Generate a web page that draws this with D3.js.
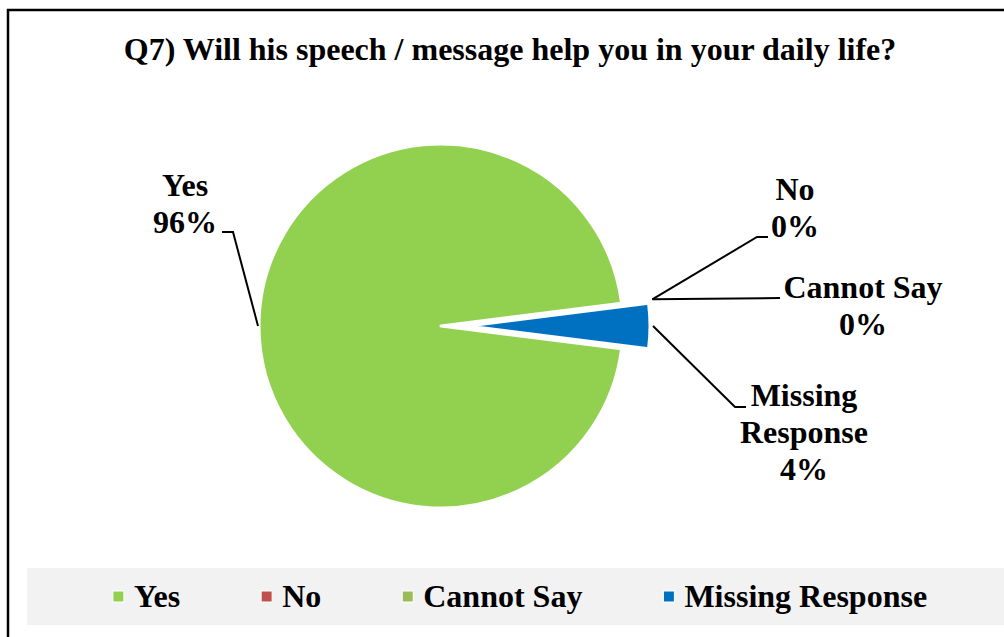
<!DOCTYPE html>
<html><head><meta charset="utf-8">
<script src="https://cdn.jsdelivr.net/npm/d3@7"></script>
<style>
body{margin:0;background:#fff}
svg{display:block}
text{font-family:"Liberation Serif","Times New Roman",serif;font-weight:bold;fill:#000}
</style>
</head><body><svg id="c" width="1004" height="637"></svg>
<script>
// ---- data ----
const categories = ["Yes", "No", "Cannot Say", "Missing Response"];
const values = [96, 0, 0, 4];
const percentLabels = ["96%", "0%", "0%", "4%"];
const labelLines = [["Yes"], ["No"], ["Cannot Say"], ["Missing", "Response"]];
const colors = ["#92D050", "#C0504D", "#9BBB59", "#0070C0"];
const title = "Q7) Will his speech / message help you in your daily life?";

// ---- layout ----
const W = 1004, H = 637;
const cx = 441, cy = 326, R = 182;
const explode = [0, 0, 0, 27];
const startDeg = 97.2;
const fontSize = 32, lineH = 37;
const labelLayout = [
  {x: 185, y: 196, lr: R + 1, elbow: [233, 232], end: [222, 232]},
  {x: 795, y: 200, lr: R + 31, elbow: [757, 237], end: [768, 237]},
  {x: 863, y: 298, lr: R + 31, elbow: null, end: [780, 298]},
  {x: 804, y: 406, lr: R + 30, elbow: [735, 407], end: [746, 407]}
];

const svg = d3.select("#c");

// frame
svg.append("rect").attr("x", 8).attr("y", 10).attr("width", 1100).attr("height", 700)
  .attr("fill", "#fff").attr("stroke", "#000").attr("stroke-width", 2.5);

// title
svg.append("text").attr("x", 510).attr("y", 60).attr("text-anchor", "middle")
  .attr("font-size", 32).text(title);

// pie
const start = startDeg * Math.PI / 180;
const pie = d3.pie().sort(null).value(d => d).startAngle(start).endAngle(start + 2 * Math.PI);
const arcs = pie(values);
const arc = d3.arc().innerRadius(0).outerRadius(R);
const g = svg.append("g").attr("transform", `translate(${cx},${cy})`);
g.selectAll("path").data(arcs.filter(a => a.endAngle > a.startAngle)).enter().append("path")
  .attr("d", arc)
  .attr("transform", d => {
    const m = (d.startAngle + d.endAngle) / 2, e = explode[d.index];
    return `translate(${e * Math.sin(m)},${-e * Math.cos(m)})`;
  })
  .attr("fill", d => colors[d.index])
  .attr("stroke", "#fff").attr("stroke-width", 3).attr("stroke-linejoin", "round");

// leader lines + labels
arcs.forEach((a, i) => {
  const L = labelLayout[i];
  const m = (a.startAngle + a.endAngle) / 2;
  const p0 = [cx + L.lr * Math.sin(m), cy - L.lr * Math.cos(m)];
  const pts = [p0];
  if (L.elbow) pts.push(L.elbow);
  pts.push(L.end);
  svg.append("path").attr("d", d3.line()(pts)).attr("fill", "none")
    .attr("stroke", "#000").attr("stroke-width", 2);
  const lines = labelLines[i].concat([percentLabels[i]]);
  const t = svg.append("text").attr("text-anchor", "middle").attr("font-size", fontSize);
  lines.forEach((s, k) => t.append("tspan").attr("x", L.x).attr("y", L.y + k * lineH).text(s));
});

// legend
svg.append("rect").attr("x", 27).attr("y", 568).attr("width", W - 27).attr("height", 57).attr("fill", "#F2F2F2");
const lg = svg.append("g");
const lf = 32, sq = 11, sqGap = 10, itemGap = 81;
let widths = categories.map(c => {
  const t = lg.append("text").attr("font-size", lf).text(c);
  const w = t.node().getComputedTextLength(); t.remove(); return w;
});
const total = widths.reduce((s, w) => s + sq + sqGap + w, 0) + itemGap * (categories.length - 1);
let x = 520 - total / 2;
categories.forEach((c, i) => {
  lg.append("rect").attr("x", x).attr("y", 591).attr("width", sq).attr("height", sq)
    .attr("fill", colors[i]).attr("stroke", "#fff").attr("stroke-width", 1);
  lg.append("text").attr("x", x + sq + sqGap).attr("y", 607).attr("font-size", lf).text(c);
  x += sq + sqGap + widths[i] + itemGap;
});
</script>
</body></html>
